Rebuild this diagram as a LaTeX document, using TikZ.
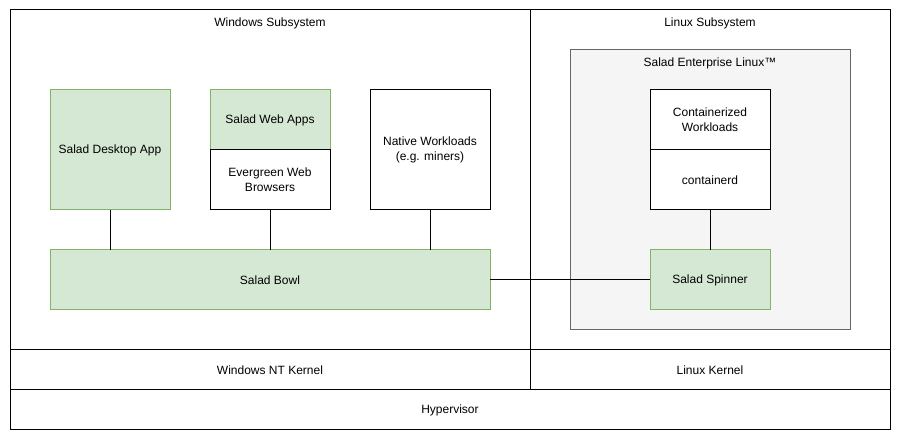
\documentclass[tikz,border=0pt]{standalone}
\usepackage{fontspec}
\setmainfont{Liberation Sans}
\usetikzlibrary{positioning}
\definecolor{saladfill}{HTML}{D5E8D4}
\definecolor{saladline}{HTML}{82B366}
\definecolor{slfill}{HTML}{F5F5F5}
\definecolor{slline}{HTML}{666666}
\tikzset{
  box/.style={draw, line width=0.75pt, inner sep=0pt, outer sep=0pt, align=center,
              font=\fontsize{9}{11}\selectfont},
  salad/.style={box, draw=saladline, fill=saladfill},
  plain/.style={box, fill=white},
  title/.style={font=\fontsize{9}{11}\selectfont}
}
\begin{document}
\begin{tikzpicture}[x=0.75pt, y=-0.75pt]
   \useasboundingbox (0,0) rectangle (901,442);

   % subsystems and kernels
   \node[plain, minimum width=390pt, minimum height=255pt] (win) at (270,180) {};
   \node[plain, minimum width=270pt, minimum height=255pt] (lin) at (710,180) {};
   \node[title] (wint) at (270,23) {Windows Subsystem};
   \node[title] (lint) at (710,23) {Linux Subsystem};
   \node[plain, minimum width=390pt, minimum height=30pt] (ntk) at (270,370) {Windows NT Kernel};
   \node[plain, minimum width=270pt, minimum height=30pt] (lk) at (710,370) {Linux Kernel};
   \node[plain, minimum width=660pt, minimum height=30pt] (hv) at (450,410) {Hypervisor};

   % enterprise linux
   \node[box, draw=slline, fill=slfill, minimum width=210pt, minimum height=210pt] (sel) at (710,190) {};
   \node[title] (selt) at (710,63) {Salad Enterprise Linux™};

   % windows side
   \node[salad, minimum width=90pt, minimum height=90pt] (desk) at (110,150) {Salad Desktop App};
   \node[salad, minimum width=90pt, minimum height=45pt] (web) at (270,120) {Salad Web Apps};
   \node[plain, minimum width=90pt, minimum height=45pt,
         below=0pt of web] (brow) {Evergreen Web\\Browsers};
   \node[plain, minimum width=90pt, minimum height=90pt] (nat) at (430,150) {Native Workloads\\(e.g. miners)};
   \node[salad, minimum width=330pt, minimum height=45pt] (bowl) at (270,280) {Salad Bowl};

   % linux side
   \node[plain, minimum width=90pt, minimum height=45pt] (cw) at (710,120) {Containerized\\Workloads};
   \node[plain, minimum width=90pt, minimum height=45pt,
         below=0pt of cw] (ctd) {containerd};
   \node[salad, minimum width=90pt, minimum height=45pt] (spin) at (710,280) {Salad Spinner};

   % connections
   \draw[line width=0.75pt] (desk) -- (desk |- bowl.north);
   \draw[line width=0.75pt] (brow) -- (brow |- bowl.north);
   \draw[line width=0.75pt] (nat) -- (nat |- bowl.north);
   \draw[line width=0.75pt] (bowl) -- (spin);
   \draw[line width=0.75pt] (ctd) -- (spin);
\end{tikzpicture}
\end{document}
